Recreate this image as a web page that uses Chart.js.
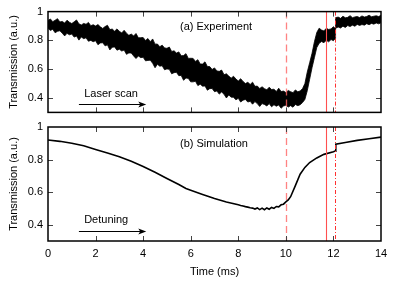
<!DOCTYPE html>
<html>
<head>
<meta charset="utf-8">
<script src="https://cdn.jsdelivr.net/npm/chart.js@4"></script>
<style>
  html, body { margin: 0; padding: 0; background: #fff; }
  #wrap { position: relative; width: 395px; height: 283px; overflow: hidden; background: #fff; }
  canvas { position: absolute; left: 0; }
</style>
</head>
<body>
<div id="wrap">
  <canvas id="top" width="395" height="124" style="top:0px"></canvas>
  <canvas id="bot" width="395" height="168" style="top:115px"></canvas>
</div>
<script>
// ---------------- data ----------------
const expTime = [0.0,0.1,0.2,0.3,0.4,0.5,0.6,0.7,0.8,0.9,1.0,1.1,1.2,1.3,1.4,1.5,1.6,1.7,1.8,1.9,
  2.0,2.1,2.2,2.3,2.4,2.5,2.6,2.7,2.8,2.9,3.0,3.1,3.2,3.3,3.4,3.5,3.6,3.7,3.8,3.9,
  4.0,4.1,4.2,4.3,4.4,4.5,4.6,4.7,4.8,4.9,5.0,5.1,5.2,5.3,5.4,5.5,5.6,5.7,5.8,5.9,
  6.0,6.1,6.2,6.3,6.4,6.5,6.6,6.7,6.8,6.9,7.0,7.1,7.2,7.3,7.4,7.5,7.6,7.7,7.8,7.9,
  8.0,8.1,8.2,8.3,8.4,8.5,8.6,8.7,8.8,8.9,9.0,9.1,9.2,9.3,9.4,9.5,9.6,9.7,9.8,9.9,
  10.0,10.1,10.2,10.3,10.4,10.5,10.6,10.7,10.8,10.9,11.0,11.1,11.2,11.3,11.4,11.5,11.6,11.7,11.8,11.9,
  12.0,12.07,12.09,12.2,12.3,12.4,12.5,12.6,12.7,12.8,12.9,13.0,13.1,13.2,13.3,13.4,13.5,13.6,13.7,13.8,13.9,14.0];
const expUpper = [0.938,0.949,0.930,0.940,0.951,0.928,0.932,0.920,0.940,0.926,0.917,0.929,0.942,0.915,0.907,0.918,0.912,0.925,0.902,0.909,
  0.900,0.910,0.894,0.883,0.896,0.905,0.875,0.879,0.864,0.880,0.863,0.852,0.870,0.850,0.835,0.844,0.831,0.848,0.818,0.819,
  0.820,0.799,0.813,0.791,0.810,0.774,0.775,0.756,0.767,0.748,0.745,0.754,0.723,0.728,0.712,0.720,0.693,0.695,0.708,0.675,
  0.676,0.675,0.654,0.666,0.636,0.636,0.651,0.619,0.618,0.598,0.609,0.588,0.585,0.594,0.562,0.568,0.552,0.538,0.551,0.532,
  0.518,0.534,0.515,0.500,0.509,0.494,0.510,0.481,0.483,0.466,0.478,0.465,0.457,0.475,0.459,0.461,0.445,0.468,0.445,0.448,
  0.438,0.452,0.444,0.437,0.456,0.443,0.449,0.465,0.500,0.580,0.645,0.710,0.790,0.855,0.885,0.872,0.866,0.884,0.876,0.880,
  0.895,0.884,0.958,0.962,0.953,0.968,0.957,0.960,0.972,0.958,0.963,0.966,0.959,0.970,0.962,0.966,0.975,0.964,0.968,0.971,0.966,0.974];
const expLower = [0.884,0.869,0.877,0.853,0.863,0.867,0.850,0.831,0.849,0.839,0.844,0.823,0.830,0.802,0.824,0.812,0.818,0.794,0.800,0.791,
  0.798,0.770,0.782,0.784,0.762,0.769,0.734,0.752,0.755,0.732,0.739,0.726,0.733,0.703,0.713,0.712,0.692,0.674,0.692,0.680,
  0.683,0.658,0.661,0.663,0.641,0.610,0.634,0.621,0.624,0.596,0.602,0.599,0.568,0.576,0.578,0.555,0.557,0.523,0.539,0.536,
  0.512,0.512,0.516,0.486,0.496,0.482,0.484,0.454,0.465,0.466,0.444,0.449,0.427,0.442,0.426,0.400,0.421,0.406,0.405,0.387,
  0.398,0.372,0.385,0.390,0.372,0.377,0.357,0.375,0.361,0.341,0.361,0.355,0.345,0.361,0.339,0.353,0.343,0.352,0.329,0.344,
  0.350,0.337,0.347,0.336,0.355,0.347,0.353,0.368,0.390,0.450,0.530,0.610,0.680,0.750,0.780,0.792,0.784,0.801,0.790,0.806,
  0.798,0.812,0.884,0.893,0.886,0.899,0.890,0.903,0.896,0.906,0.898,0.911,0.904,0.910,0.906,0.916,0.909,0.918,0.913,0.921,0.915,0.922];

const simTime  = [0,0.5,1,1.5,2,2.5,3,3.5,4,4.5,5,5.5,5.8,6.0,6.5,7.0,7.5,8.0,8.1,8.2,8.3,8.4,8.5,8.6,8.7,8.8,8.9,9.0,9.1,9.2,9.3,9.4,9.5,9.6,9.7,9.8,9.9,10.0,10.1,10.2,10.4,10.6,10.8,11.0,11.3,11.6,12.0,12.07,12.1,12.5,13.0,13.5,14.0];
const simValue = [0.920,0.912,0.900,0.885,0.862,0.840,0.818,0.790,0.758,0.722,0.684,0.647,0.622,0.612,0.586,0.561,0.540,0.522,0.518,0.515,0.511,0.508,0.504,0.502,0.496,0.503,0.493,0.502,0.492,0.503,0.495,0.506,0.500,0.512,0.510,0.522,0.526,0.540,0.552,0.572,0.640,0.710,0.752,0.782,0.810,0.832,0.848,0.852,0.895,0.905,0.918,0.928,0.938];

const xTicks = [0,2,4,6,8,10,12,14];
const yTicks = [0.4,0.6,0.8,1];
const markerTimes = [10.0, 11.7, 12.08];  // dashed, solid, dash-dot
const panelLabels = ['(a) Experiment', '(b) Simulation'];
const arrowLabels = ['Laser scan', 'Detuning'];
const yTitle = 'Transmission (a.u.)';
const xTitle = 'Time (ms)';

// ---------------- helpers ----------------
const FONT = '"Liberation Sans", Arial, Helvetica, sans-serif';
function pts(xs, ys) { return xs.map((x, i) => ({ x: x, y: ys[i] })); }

function makePlugin(panelIdx) {
  return {
    id: 'decor' + panelIdx,
    afterDraw(chart) {
      const ctx = chart.ctx, a = chart.chartArea;
      const xs = chart.scales.x, ys = chart.scales.y;
      ctx.save();
      // vertical marker lines
      const styles = [
        { c: 'rgba(255,100,100,0.8)', d: [7, 4], w: 1.3 },
        { c: '#ff5050', d: [], w: 1.1 },
        { c: '#ff3030', d: [4, 2, 1, 2], w: 1 }
      ];
      markerTimes.forEach((t, i) => {
        const px = Math.round(xs.getPixelForValue(t)) + 0.5;
        ctx.beginPath();
        ctx.strokeStyle = styles[i].c;
        ctx.lineWidth = styles[i].w;
        ctx.setLineDash(styles[i].d);
        ctx.moveTo(px, a.top);
        ctx.lineTo(px, a.bottom);
        ctx.stroke();
      });
      ctx.setLineDash([]);
      // inward ticks
      ctx.strokeStyle = '#444';
      ctx.lineWidth = 1;
      ctx.beginPath();
      xTicks.forEach(v => {
        if (v <= xs.min || v >= xs.max) return;
        const px = Math.round(xs.getPixelForValue(v)) + 0.5;
        ctx.moveTo(px, a.top); ctx.lineTo(px, a.top + 5);
        ctx.moveTo(px, a.bottom); ctx.lineTo(px, a.bottom - 5);
      });
      yTicks.forEach(v => {
        if (v >= ys.max) return;
        const py = Math.round(ys.getPixelForValue(v)) + 0.5;
        ctx.moveTo(a.left, py); ctx.lineTo(a.left + 5, py);
        ctx.moveTo(a.right, py); ctx.lineTo(a.right - 5, py);
      });
      ctx.stroke();
      // frame
      ctx.strokeStyle = '#000';
      ctx.lineWidth = 1.5;
      ctx.strokeRect(a.left, a.top, a.right - a.left, a.bottom - a.top);
      // panel label
      ctx.fillStyle = '#000';
      ctx.font = '11px ' + FONT;
      ctx.textBaseline = 'middle';
      ctx.textAlign = 'left';
      ctx.fillText(panelLabels[panelIdx], xs.getPixelForValue(5.55), ys.getPixelForValue(0.896));
      // arrow label and arrow
      ctx.fillText(arrowLabels[panelIdx], xs.getPixelForValue(1.52), ys.getPixelForValue(0.43));
      const ay = Math.round(ys.getPixelForValue(0.359)) + 0.5;
      const ax0 = xs.getPixelForValue(1.3), ax1 = xs.getPixelForValue(4.13);
      ctx.lineWidth = 1;
      ctx.beginPath();
      ctx.moveTo(ax0, ay); ctx.lineTo(ax1 - 5, ay);
      ctx.stroke();
      ctx.beginPath();
      ctx.moveTo(ax1, ay);
      ctx.lineTo(ax1 - 8, ay - 3);
      ctx.lineTo(ax1 - 6, ay);
      ctx.lineTo(ax1 - 8, ay + 3);
      ctx.closePath();
      ctx.fill();
      ctx.restore();
    }
  };
}

function yScale() {
  return {
    type: 'linear', min: 0.3, max: 1,
    afterBuildTicks: s => { s.ticks = yTicks.map(v => ({ value: v })); },
    afterFit: s => { s.width = 48; },
    grid: { display: false, drawTicks: false },
    border: { display: false },
    ticks: { padding: 5, color: '#000', font: { family: FONT, size: 11 },
             callback: v => String(v) },
    title: { display: true, text: yTitle, color: '#000', font: { family: FONT, size: 11 },
             padding: { top: 7, bottom: 0 } }
  };
}

Chart.defaults.font.family = FONT;
Chart.defaults.animation = false;

new Chart(document.getElementById('top'), {
  type: 'line',
  data: {
    datasets: [
      { data: pts(expTime, expLower), borderColor: '#000', borderWidth: 0.8, pointRadius: 0, fill: false, tension: 0 },
      { data: pts(expTime, expUpper), borderColor: '#000', borderWidth: 0.8, pointRadius: 0, fill: '-1', backgroundColor: '#000', tension: 0 }
    ]
  },
  options: {
    responsive: false, animation: false,
    layout: { padding: { left: 0, right: 14, top: 8, bottom: 2 } },
    plugins: { legend: { display: false }, tooltip: { enabled: false }, filler: { propagate: false } },
    scales: {
      x: { type: 'linear', min: 0, max: 14, display: false },
      y: yScale()
    }
  },
  plugins: [makePlugin(0)]
});

new Chart(document.getElementById('bot'), {
  type: 'line',
  data: {
    datasets: [
      { data: pts(simTime, simValue), borderColor: '#000', borderWidth: 1.6, pointRadius: 0, fill: false, tension: 0 }
    ]
  },
  options: {
    responsive: false, animation: false,
    layout: { padding: { left: 0, right: 14, top: 12, bottom: 0 } },
    plugins: { legend: { display: false }, tooltip: { enabled: false } },
    scales: {
      x: {
        type: 'linear', min: 0, max: 14,
        afterBuildTicks: s => { s.ticks = xTicks.map(v => ({ value: v })); },
        afterFit: s => { s.height = 42; },
        grid: { display: false, drawTicks: false },
        border: { display: false },
        ticks: { padding: 6, color: '#000', maxRotation: 0, font: { family: FONT, size: 11 },
                 callback: v => String(v) },
        title: { display: true, text: xTitle, color: '#000', font: { family: FONT, size: 11 },
                 padding: { top: 0, bottom: 4 } }
      },
      y: yScale()
    }
  },
  plugins: [makePlugin(1)]
});
</script>
</body>
</html>
